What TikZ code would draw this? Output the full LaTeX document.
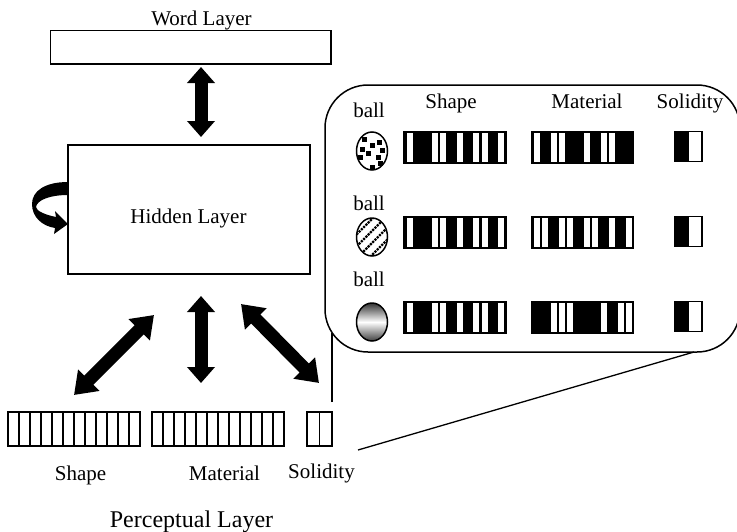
\documentclass[tikz,border=0pt]{standalone}
\usepackage{fontspec}
\setmainfont{Liberation Serif}
\usetikzlibrary{arrows.meta, positioning, shapes.geometric, calc}

\begin{document}
\begin{tikzpicture}[
    x=1pt, y=-1pt,
    every node/.style={font=\fontsize{21}{25}\selectfont},
    txt/.style={anchor=base, inner sep=0pt},
    layerbox/.style={rectangle, draw, line width=1.5pt, fill=white, inner sep=0pt},
    slotbox/.style={rectangle, draw, line width=1.2pt, inner sep=0pt, minimum height=34pt},
    codebar/.style={rectangle, draw, line width=1.5pt, fill=black, inner sep=0pt, minimum width=102pt, minimum height=31pt},
    solidbar/.style={rectangle, draw, line width=1.5pt, fill=white, inner sep=0pt, minimum width=27pt, minimum height=30pt},
    ball/.style={ellipse, draw, line width=1.5pt, inner sep=0pt, minimum width=31pt, minimum height=38pt},
    bigarrow/.style={line width=13pt, {Triangle[width=27pt,length=16pt]}-{Triangle[width=27pt,length=16pt]}},
    slantarrow/.style={line width=13pt, {Triangle[width=29pt,length=21pt]}-{Triangle[width=29pt,length=21pt]}},
    leader/.style={line width=1.3pt}
]
\useasboundingbox (0,0) rectangle (737,531);

% layers
\node (wordbox) [layerbox, minimum width=280.5pt, minimum height=33.5pt] at (190.75,47.25) {};
\node (wordlabel) [txt] at (201.5,25) {Word Layer};
\node (hidden) [layerbox, minimum width=242pt, minimum height=129pt] at (189,209.5) {};
\node (hiddenlabel) [txt] at (188.5,223) {Hidden Layer};

% callout
\node (callout) [rectangle, draw, line width=1.5pt, rounded corners=43pt, inner sep=0pt, minimum width=415pt, minimum height=267pt] at (532.5,218.5) {};
\coordinate (calloutA) at (332,333);
\coordinate (calloutB) at (694,352);

% arrows
\coordinate (wordend) at (201,67);
\coordinate (hiddenend) at (201,137);
\coordinate (midtop) at (201,296);
\coordinate (midbot) at (201,383);
\coordinate (lefttop) at (154,315);
\coordinate (leftbot) at (74,395);
\coordinate (righttop) at (241,304);
\coordinate (rightbot) at (319,383);
\draw[bigarrow] (wordend) -- (hiddenend);
\draw[bigarrow] (midtop) -- (midbot);
\draw[slantarrow] (lefttop) -- (leftbot);
\draw[slantarrow] (righttop) -- (rightbot);

% self loop
\fill (68,182) .. controls (45,182) and (32,191) .. (32,204) .. controls (32,217) and (42,226) .. (55,228) -- (54,234) -- (68,224) -- (55,211) -- (56,217) .. controls (46,215) and (36,211) .. (36,207) .. controls (37,200) and (50,195) .. (68,195) -- cycle;

% perceptual slots
\node (shapeslots) [slotbox, minimum width=132pt] at (74,429) {};
\foreach \i in {1,...,11} \draw[line width=1.2pt] (8+11*\i,412) -- (8+11*\i,446);
\node (matslots) [slotbox, minimum width=132pt] at (218,429) {};
\foreach \i in {1,...,11} \draw[line width=1.2pt] (152+11*\i,412) -- (152+11*\i,446);
\node (solidslots) [slotbox, minimum width=25pt] at (319.5,429) {};
\draw[line width=1.2pt] (solidslots.north) -- (solidslots.south);

\coordinate (leadend) at (358,450);
\coordinate (slotend) at (332,402);
\draw[leader] (slotend) -- (calloutA);
\draw[leader] (leadend) -- (calloutB);

\node (shapelabel) [txt] at (80.5,480) {Shape};
\node (matlabel) [txt] at (224.5,480) {Material};
\node (solidlabel) [txt] at (321.5,478) {Solidity};
\node (perclabel) [txt, font=\fontsize{24}{28}\selectfont] at (191.5,527) {Perceptual Layer};

% callout headings
\node (shapehead) [txt] at (451,108) {Shape};
\node (mathead) [txt] at (587,108) {Material};
\node (solidhead) [txt] at (690,108) {Solidity};

% coded bars
\foreach \n/\midy in {a/147.5,b/232.5,c/317.5} {
  \node (shape\n) [codebar] at (455,\midy) {};
  \foreach \w in {0,3,4,6,8,9,11}
    \fill[white] (406.5+8.35*\w,\midy-14.5) rectangle ++(6,29);
  \node (solid\n) [solidbar] at (688.5,\midy-1) {};
  \fill (solid\n.north west) rectangle (solid\n.south);
}
\foreach \n/\midy/\whites in {a/147.5/{0,2,3,6,8,9}, b/232.5/{0,1,3,4,6,7,9,11}, c/317.5/{2,3,4,8,10,11}} {
  \node (mat\n) [codebar] at (582.5,\midy) {};
  \foreach \w in \whites
    \fill[white] (534+8.35*\w,\midy-14.5) rectangle ++(6,29);
}

% balls
\node (balla) [ball] at (372,151) {};
\node (ballb) [ball] at (372,237) {};
\node (ballc) [ball, top color=black!80, bottom color=black!75, middle color=white] at (372,322) {};
\node (balltxta) [txt] at (369,117) {ball};
\node (balltxtb) [txt] at (369,210) {ball};
\node (balltxtc) [txt] at (369,286) {ball};

\foreach \dx/\dy in {7/-9,0/-6,-10/-2,10/-1,-4/2,6/6,-12/6,8/12,0/16,-8/-12}
  \fill ($(372,151)+(\dx,\dy)$) ++(-2.5,-2.5) rectangle ++(5,5);

\begin{scope}
  \clip (372,237) ellipse [x radius=15, y radius=18.5];
  \foreach \off in {-30,-18,-6,6,18,30}
    \draw[line width=2.2pt, dash pattern=on 2.2pt off 1pt] (352,237+\off+20) -- (392,237+\off-20);
\end{scope}

\end{tikzpicture}
\end{document}
